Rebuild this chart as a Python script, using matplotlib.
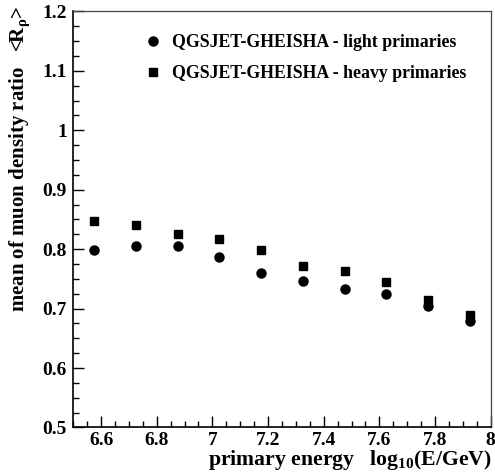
import matplotlib
matplotlib.use("Agg")
import matplotlib.pyplot as plt
from matplotlib.ticker import MultipleLocator

plt.rcParams['font.family'] = ['Liberation Serif', 'DejaVu Serif']
plt.rcParams['font.weight'] = 'bold'
plt.rcParams['mathtext.fontset'] = 'custom'
plt.rcParams['mathtext.rm'] = 'Liberation Serif:bold'
plt.rcParams['mathtext.it'] = 'Liberation Serif:bold'
plt.rcParams['mathtext.bf'] = 'Liberation Serif:bold'

# log10(E/GeV) bin centres
energy = [6.575, 6.725, 6.875, 7.025, 7.175, 7.325, 7.475, 7.625, 7.775, 7.925]
light = [0.798, 0.806, 0.805, 0.787, 0.760, 0.747, 0.733, 0.725, 0.704, 0.680]
heavy = [0.847, 0.840, 0.825, 0.818, 0.798, 0.772, 0.763, 0.745, 0.715, 0.690]
labels = ["QGSJET-GHEISHA - light primaries", "QGSJET-GHEISHA - heavy primaries"]

fig = plt.figure(figsize=(4.95, 4.73), dpi=100)
ax = fig.add_axes([0.148, 0.0962, 0.8433, 0.8795])

ax.plot(energy, light, 'o', color='black', markersize=6.5, label=labels[0])
ax.plot(energy, heavy, 's', color='black', markersize=6.2, label=labels[1])

ax.set_xlim(6.5, 8.0)
ax.set_ylim(0.5, 1.2)
ax.xaxis.set_minor_locator(MultipleLocator(0.05))
ax.yaxis.set_minor_locator(MultipleLocator(0.025))
ax.set_xticks([6.6, 6.8, 7.0, 7.2, 7.4, 7.6, 7.8, 8.0])
ax.set_xticklabels(["6.6", "6.8", "7", "7.2", "7.4", "7.6", "7.8", "8"])
ax.set_yticks([0.5, 0.6, 0.7, 0.8, 0.9, 1.0, 1.1, 1.2])
ax.set_yticklabels(["0.5", "0.6", "0.7", "0.8", "0.9", "1", "1.1", "1.2"])
ax.tick_params(which='both', direction='in', top=False, right=False,
               labelsize=14, width=1)
ax.tick_params(which='major', length=8)
ax.tick_params(which='minor', length=4)
ax.tick_params(axis='x', pad=3.5)
ax.tick_params(axis='y', pad=4.5)
for side in ['left', 'bottom']:
    ax.spines[side].set_linewidth(1.2)
for side in ['top', 'right']:
    ax.spines[side].set_linewidth(0.9)
    ax.spines[side].set_color('#444444')

# axis titles placed like the ROOT canvas
fig.text(492 / 495, 1 - 465 / 473, r"primary energy   log$_{10}$(E/GeV)",
         fontsize=15.7, fontweight='bold', ha='right', va='baseline')
fig.text(20 / 495, 1 - 6 / 473, r"mean of muon density ratio   <R$_{\rho}$>",
         fontsize=15, fontweight='bold', rotation=90, ha='center', va='top')

ax.legend(loc='upper left', bbox_to_anchor=(0.169, 0.946), frameon=False,
          fontsize=12.8, handletextpad=0.57, labelspacing=0.8,
          handlelength=1.0, borderaxespad=0, borderpad=0)

fig.savefig("out.png", dpi=100)
